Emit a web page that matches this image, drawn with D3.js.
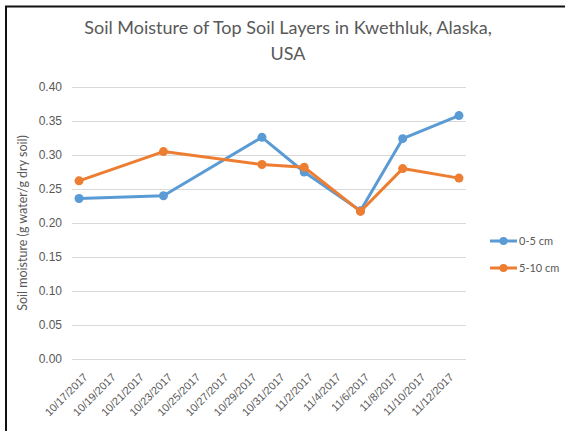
<!DOCTYPE html>
<html>
<head>
<meta charset="utf-8">
<script src="https://cdn.jsdelivr.net/npm/d3@7"></script>
<style>
  body { margin: 0; background: #fff; }
  svg { display: block; font-family: Lato, "Open Sans", sans-serif; }
</style>
</head>
<body>
<div class="svg-container"></div>
<script>
// sample dates and the two depth series
var dates = ["10/17/2017", "10/23/2017", "10/30/2017", "11/2/2017", "11/6/2017", "11/9/2017", "11/13/2017"];
var shallow = [0.236, 0.240, 0.326, 0.275, 0.218, 0.324, 0.358];   // 0-5 cm
var deeper = [0.262, 0.305, 0.286, 0.282, 0.217, 0.280, 0.266];    // 5-10 cm
var seriesNames = ["0-5 cm", "5-10 cm"];
var tickLabels = ["10/17/2017", "10/19/2017", "10/21/2017", "10/23/2017", "10/25/2017", "10/27/2017",
    "10/29/2017", "10/31/2017", "11/2/2017", "11/4/2017", "11/6/2017", "11/8/2017", "11/10/2017", "11/12/2017"];
var yTicks = [0, 0.05, 0.10, 0.15, 0.20, 0.25, 0.30, 0.35, 0.40];

var colors = ["#5B9BD5", "#ED7D31"];
var W = 565, H = 431;
var plot = {left: 72, right: 466, top: 87, bottom: 359};

var parseTime = d3.timeParse("%m/%d/%Y");

var svg = d3.select(".svg-container").append("svg")
    .attr("width", W)
    .attr("height", H);

// frame lines (top and left edge of the pasted chart)
svg.append("line").attr("x1", 5).attr("x2", W).attr("y1", 6.5).attr("y2", 6.5)
    .attr("stroke", "#111").attr("stroke-width", 2);
svg.append("line").attr("x1", 6).attr("x2", 6).attr("y1", 6).attr("y2", H)
    .attr("stroke", "#111").attr("stroke-width", 2);

// date axis: each day is a cell, points sit in the middle of the cell
var d0 = d3.timeHour.offset(parseTime(dates[0]), -12),
    d1 = d3.timeHour.offset(parseTime(dates[dates.length - 1]), 12);
var xScale = d3.scaleTime().domain([d0, d1]).range([plot.left, plot.right]);
var yScale = d3.scaleLinear().domain([0, 0.4]).range([plot.bottom, plot.top]);

// grid
svg.append("g")
    .attr("class", "grid")
    .attr("transform", "translate(" + plot.left + ",0)")
    .call(d3.axisLeft(yScale).tickValues(yTicks).tickSize(-(plot.right - plot.left)).tickFormat(""))
    .call(function (g) {
        g.select(".domain").remove();
        g.selectAll("line").attr("stroke", "#d9d9d9").attr("stroke-width", 1);
    });

// y axis labels
svg.append("g")
    .attr("transform", "translate(" + plot.left + ",0)")
    .call(d3.axisLeft(yScale).tickValues(yTicks).tickSize(0).tickPadding(10).tickFormat(d3.format(".2f")))
    .call(function (g) {
        g.select(".domain").remove();
        g.selectAll("text").attr("fill", "#595959").style("font-size", "12px");
    });

// x axis labels
svg.append("g")
    .attr("transform", "translate(0," + plot.bottom + ")")
    .call(d3.axisBottom(xScale)
        .tickValues(tickLabels.map(parseTime))
        .tickSize(0)
        .tickFormat(function (d, i) { return tickLabels[i]; }))
    .call(function (g) {
        g.select(".domain").remove();
        g.selectAll("text")
            .attr("fill", "#595959")
            .style("font-size", "11px")
            .style("text-anchor", "end")
            .attr("dy", "0.35em")
            .attr("transform", "translate(4,14) rotate(-45)");
    });

// y axis title
svg.append("text")
    .attr("transform", "translate(27," + ((plot.top + plot.bottom) / 2) + ") rotate(-90)")
    .style("text-anchor", "middle")
    .style("font-size", "12.5px")
    .attr("fill", "#595959")
    .text("Soil moisture (g water/g dry soil)");

// chart title
var title = svg.append("text")
    .attr("x", 288)
    .attr("y", 34)
    .style("text-anchor", "middle")
    .style("font-size", "18px")
    .attr("fill", "#595959");
title.append("tspan").attr("x", 288).text("Soil Moisture of Top Soil Layers in Kwethluk, Alaska,");
title.append("tspan").attr("x", 288).attr("dy", 26).text("USA");

var series = [shallow, deeper].map(function (vals, k) {
    return {
        name: seriesNames[k],
        color: colors[k],
        values: vals.map(function (v, i) { return {date: parseTime(dates[i]), value: v}; })
    };
});

var line = d3.line()
    .x(function (d) { return xScale(d.date); })
    .y(function (d) { return yScale(d.value); });

var sg = svg.selectAll(".series")
    .data(series)
    .enter().append("g")
    .attr("class", "series");

sg.append("path")
    .attr("d", function (d) { return line(d.values); })
    .attr("fill", "none")
    .attr("stroke", function (d) { return d.color; })
    .attr("stroke-width", 3)
    .attr("stroke-linejoin", "round");

sg.selectAll("circle")
    .data(function (d) { return d.values.map(function (v) { return {v: v, color: d.color}; }); })
    .enter().append("circle")
    .attr("cx", function (d) { return xScale(d.v.date); })
    .attr("cy", function (d) { return yScale(d.v.value); })
    .attr("r", 4.5)
    .attr("fill", function (d) { return d.color; });

// legend
var legend = svg.selectAll(".legend")
    .data(series)
    .enter().append("g")
    .attr("class", "legend")
    .attr("transform", function (d, i) { return "translate(490," + (241 + i * 27) + ")"; });

legend.append("line")
    .attr("x1", 0).attr("x2", 27)
    .attr("stroke", function (d) { return d.color; })
    .attr("stroke-width", 3);
legend.append("circle")
    .attr("cx", 13.5).attr("r", 4)
    .attr("fill", function (d) { return d.color; });
legend.append("text")
    .attr("x", 29)
    .attr("dy", "0.35em")
    .style("font-size", "11px")
    .attr("fill", "#595959")
    .text(function (d) { return d.name; });
</script>
</body>
</html>
